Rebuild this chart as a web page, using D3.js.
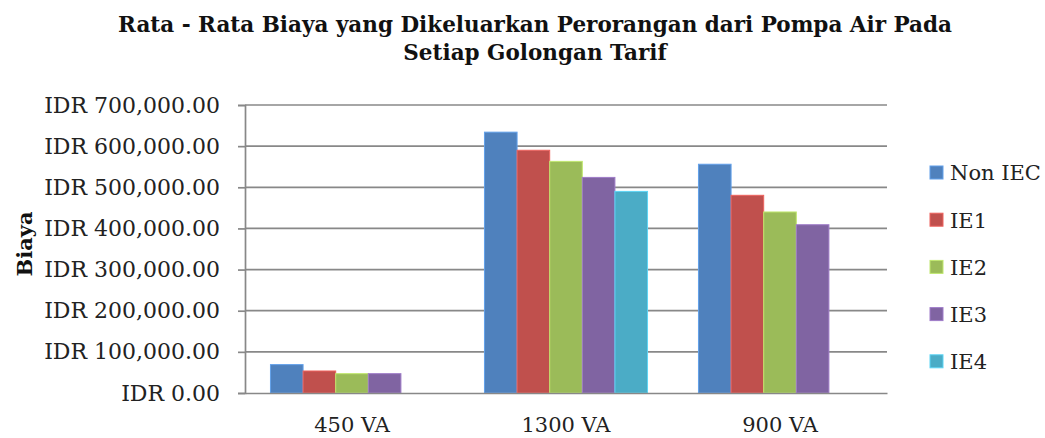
<!DOCTYPE html>
<html>
<head>
<meta charset="utf-8">
<script src="https://cdn.jsdelivr.net/npm/d3@7"></script>
<style>
  body { margin: 0; background: #fff; }
  svg { display: block; font-family: "DejaVu Serif", serif; }
</style>
</head>
<body>
<svg width="1045" height="438"></svg>
<script>
// data
var categories = ['450 VA', '1300 VA', '900 VA'];
var seriesNames = ['Non IEC', 'IE1', 'IE2', 'IE3', 'IE4'];
var seriesColors = ['#4F81BD', '#C0504D', '#9BBB59', '#8064A2', '#4BACC6'];
var nonIec = [69000, 634000, 556000];
var ie1 = [53500, 590000, 480500];
var ie2 = [47000, 563000, 440000];
var ie3 = [47000, 524000, 409000];
var ie4 = [null, 490000, null];
var yTicks = [0, 100000, 200000, 300000, 400000, 500000, 600000, 700000];
var titleLines = ['Rata - Rata Biaya yang Dikeluarkan Perorangan dari Pompa Air Pada', 'Setiap Golongan Tarif'];

var allValues = [nonIec, ie1, ie2, ie3, ie4];

var svg = d3.select('svg');
var plotLeft = 245, plotRight = 887, plotTop = 105, plotBottom = 393;

var x0 = d3.scaleBand().domain(categories).range([plotLeft, plotRight])
  .paddingInner(0.238).paddingOuter(0.119);
var x1 = d3.scaleBand().domain(seriesNames).range([0, x0.bandwidth()]);
var y = d3.scaleLinear().domain([0, 700000]).range([plotBottom, plotTop]);

var fmt = d3.format(',.2f');

// gridlines
svg.append('g')
  .selectAll('line')
  .data(yTicks.slice(1))
  .join('line')
  .attr('x1', plotLeft).attr('x2', plotRight)
  .attr('y1', function (d) { return y(d); })
  .attr('y2', function (d) { return y(d); })
  .attr('stroke', '#888').attr('stroke-width', 1.7);

// bars
var groups = svg.append('g').selectAll('g')
  .data(categories)
  .join('g')
  .attr('transform', function (d) { return 'translate(' + x0(d) + ',0)'; });

groups.selectAll('rect')
  .data(function (c, ci) {
    return seriesNames.map(function (s, si) {
      return { s: s, v: allValues[si][ci], c: seriesColors[si] };
    }).filter(function (d) { return d.v != null; });
  })
  .join('rect')
  .attr('x', function (d) { return x1(d.s); })
  .attr('width', x1.bandwidth())
  .attr('y', function (d) { return y(d.v); })
  .attr('height', function (d) { return y(0) - y(d.v); })
  .attr('fill', function (d) { return d.c; })
  .attr('stroke', function (d) { return d3.color(d.c).brighter(0.6); })
  .attr('stroke-width', 1);

// y axis
var yAxis = d3.axisLeft(y).tickValues(yTicks).tickSize(7).tickPadding(18)
  .tickFormat(function (d) { return 'IDR ' + fmt(d); });
var gy = svg.append('g').attr('transform', 'translate(' + plotLeft + ',0)').call(yAxis);
gy.select('.domain').attr('stroke', '#888').attr('stroke-width', 1.7);
gy.selectAll('.tick line').attr('stroke', '#888').attr('stroke-width', 1.7);
gy.selectAll('.tick text').attr('font-size', 22).attr('fill', '#222')
  .attr('font-family', '"DejaVu Serif", serif');

// x axis
var xAxis = d3.axisBottom(x0).tickSize(0).tickPadding(24);
var gx = svg.append('g').attr('transform', 'translate(0,' + plotBottom + ')').call(xAxis);
gx.select('.domain').attr('stroke', '#888').attr('stroke-width', 1.7);
gx.selectAll('.tick text').attr('font-size', 21).attr('fill', '#222')
  .attr('font-family', '"DejaVu Serif", serif');

// axis title
svg.append('text')
  .attr('transform', 'translate(32,244) rotate(-90)')
  .attr('text-anchor', 'middle')
  .attr('font-size', 21).attr('font-weight', 'bold').attr('fill', '#111')
  .text('Biaya');

// title
svg.append('g').selectAll('text')
  .data(titleLines)
  .join('text')
  .attr('x', 535)
  .attr('y', function (d, i) { return 32 + i * 28; })
  .attr('text-anchor', 'middle')
  .attr('font-size', 21.5).attr('font-weight', 'bold').attr('fill', '#111')
  .text(function (d) { return d; });

// legend
var legend = svg.append('g').selectAll('g')
  .data(seriesNames)
  .join('g')
  .attr('transform', function (d, i) { return 'translate(930,' + (173 + i * 47.2) + ')'; });
legend.append('rect')
  .attr('x', 0).attr('y', -7).attr('width', 13).attr('height', 13)
  .attr('fill', function (d, i) { return seriesColors[i]; })
  .attr('stroke', function (d, i) { return d3.color(seriesColors[i]).brighter(0.6); });
legend.append('text')
  .attr('x', 20).attr('y', 0).attr('dy', '0.35em')
  .attr('font-size', 21).attr('fill', '#222')
  .text(function (d) { return d; });
</script>
</body>
</html>
